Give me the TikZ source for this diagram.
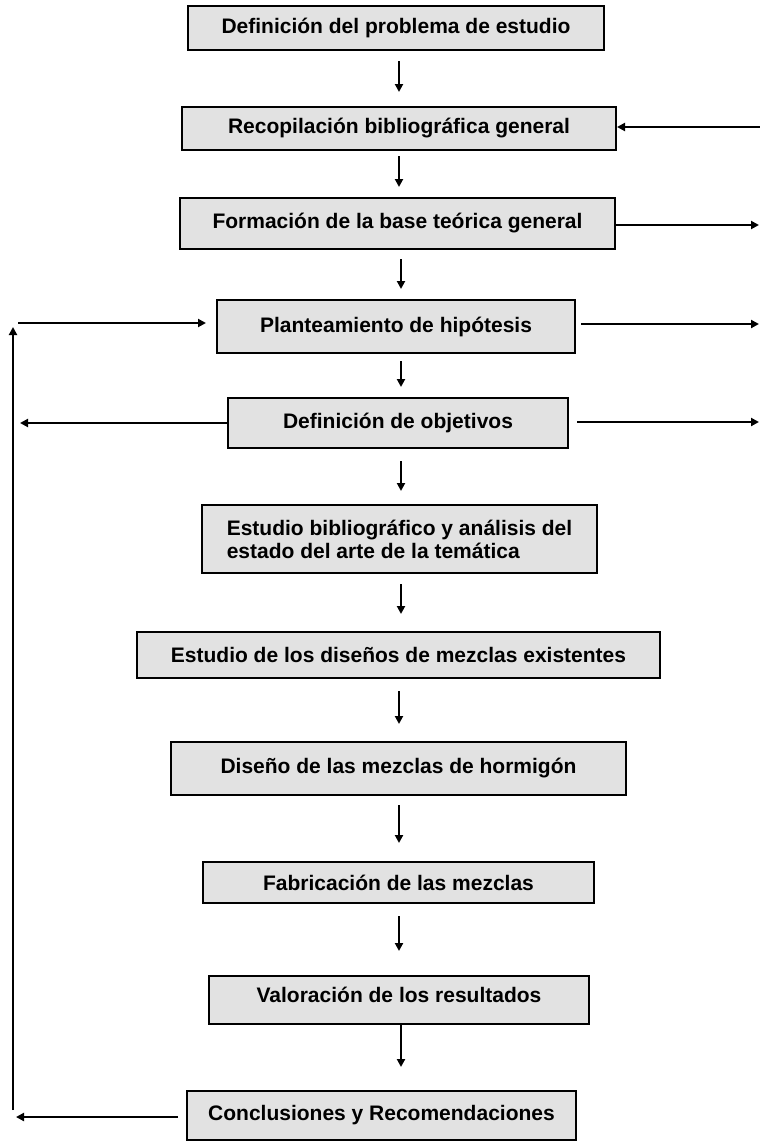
\documentclass[tikz,border=0pt]{standalone}
\usepackage{fontspec}
\setmainfont{Liberation Sans}
\usetikzlibrary{arrows.meta,calc}
\definecolor{marble}{RGB}{226,226,226}
\tikzset{
  stepbox/.style={draw=black, line width=2pt, fill=marble, inner sep=0pt,
    font=\fontsize{21}{23}\selectfont\bfseries, align=center},
  arr/.style={line width=2pt, -{Triangle[length=8pt,width=8pt]}},
}
\begin{document}
\begin{tikzpicture}[x=1pt,y=-1pt]
\useasboundingbox (0,0) rectangle (760,1141);
\node[stepbox, minimum width=416, minimum height=44] (n1) at (396,28) {Definición del problema de estudio};
\node[stepbox, minimum width=434, minimum height=43] (n2) at (399,128.5) {Recopilación bibliográfica general};
\node[stepbox, minimum width=435, minimum height=51] (n3) at (397.5,223.5) {Formación de la base teórica general};
\node[stepbox, minimum width=358, minimum height=53] (n4) at (396,326.5) {Planteamiento de hipótesis};
\node[stepbox, minimum width=340, minimum height=50] (n5) at (398,423) {Definición de objetivos};
\node[stepbox, minimum width=395, minimum height=68, align=left] (n6) at (399.5,539) {Estudio bibliográfico y análisis del\\estado del arte de la temática};
\node[stepbox, minimum width=523, minimum height=46] (n7) at (398.5,655) {Estudio de los diseños de mezclas existentes};
\node[stepbox, minimum width=455, minimum height=53] (n8) at (398.5,768.5) {Diseño de las mezclas de hormigón};
\node[stepbox, minimum width=391, minimum height=41] (n9) at (398.5,882.5) {Fabricación de las mezclas};
\node[stepbox, minimum width=380, minimum height=48] (n10) at (399,1000) {};
\node[font=\fontsize{21}{23}\selectfont\bfseries] (t10) at (399,995) {Valoración de los resultados};
\node[stepbox, minimum width=389, minimum height=49] (n11) at (381.5,1115.5) {Conclusiones y Recomendaciones};

\coordinate (cx) at (399,0);
\coordinate (cx2) at (401,0);
\draw[arr, shorten <=10pt, shorten >=14pt] (n1.south -| cx) -- (n2.north -| cx);
\draw[arr, shorten <=5pt, shorten >=10pt] (n2.south -| cx) -- (n3.north -| cx);
\draw[arr, shorten <=9pt, shorten >=10pt] (n3.south -| cx2) -- (n4.north -| cx2);
\draw[arr, shorten <=7pt, shorten >=10pt] (n4.south -| cx2) -- (n5.north -| cx2);
\draw[arr, shorten <=12pt, shorten >=13pt] (n5.south -| cx2) -- (n6.north -| cx2);
\draw[arr, shorten <=10pt, shorten >=17pt] (n6.south -| cx2) -- (n7.north -| cx2);
\draw[arr, shorten <=12pt, shorten >=17pt] (n7.south -| cx) -- (n8.north -| cx);
\draw[arr, shorten <=9pt, shorten >=18pt] (n8.south -| cx) -- (n9.north -| cx);
\draw[arr, shorten <=12pt, shorten >=24pt] (n9.south -| cx) -- (n10.north -| cx);
\draw[arr, shorten >=23pt] (n10.south -| cx2) -- (n11.north -| cx2);

% right side
\coordinate (r2) at (760,127);
\coordinate (r3) at (759,225);
\coordinate (r4) at (759,324);
\coordinate (r5) at (759,422);
\draw[arr] (r2) -- (n2.east |- r2);
\draw[arr] (n3.east |- r3) -- (r3);
\draw[arr, shorten <=5pt] (n4.east |- r4) -- (r4);
\draw[arr, shorten <=8pt] (n5.east |- r5) -- (r5);

% left side
\coordinate (l1) at (13,1110);
\coordinate (l2) at (13,327);
\coordinate (l3) at (18,323);
\coordinate (l4) at (20,423);
\coordinate (l5) at (16,1117);
\draw[arr] (l1) -- (l2);
\draw[arr, shorten >=10pt] (l3) -- (n4.west |- l3);
\draw[arr] (n5.west |- l4) -- (l4);
\draw[arr, shorten <=8pt] (n11.west |- l5) -- (l5);
\end{tikzpicture}
\end{document}
